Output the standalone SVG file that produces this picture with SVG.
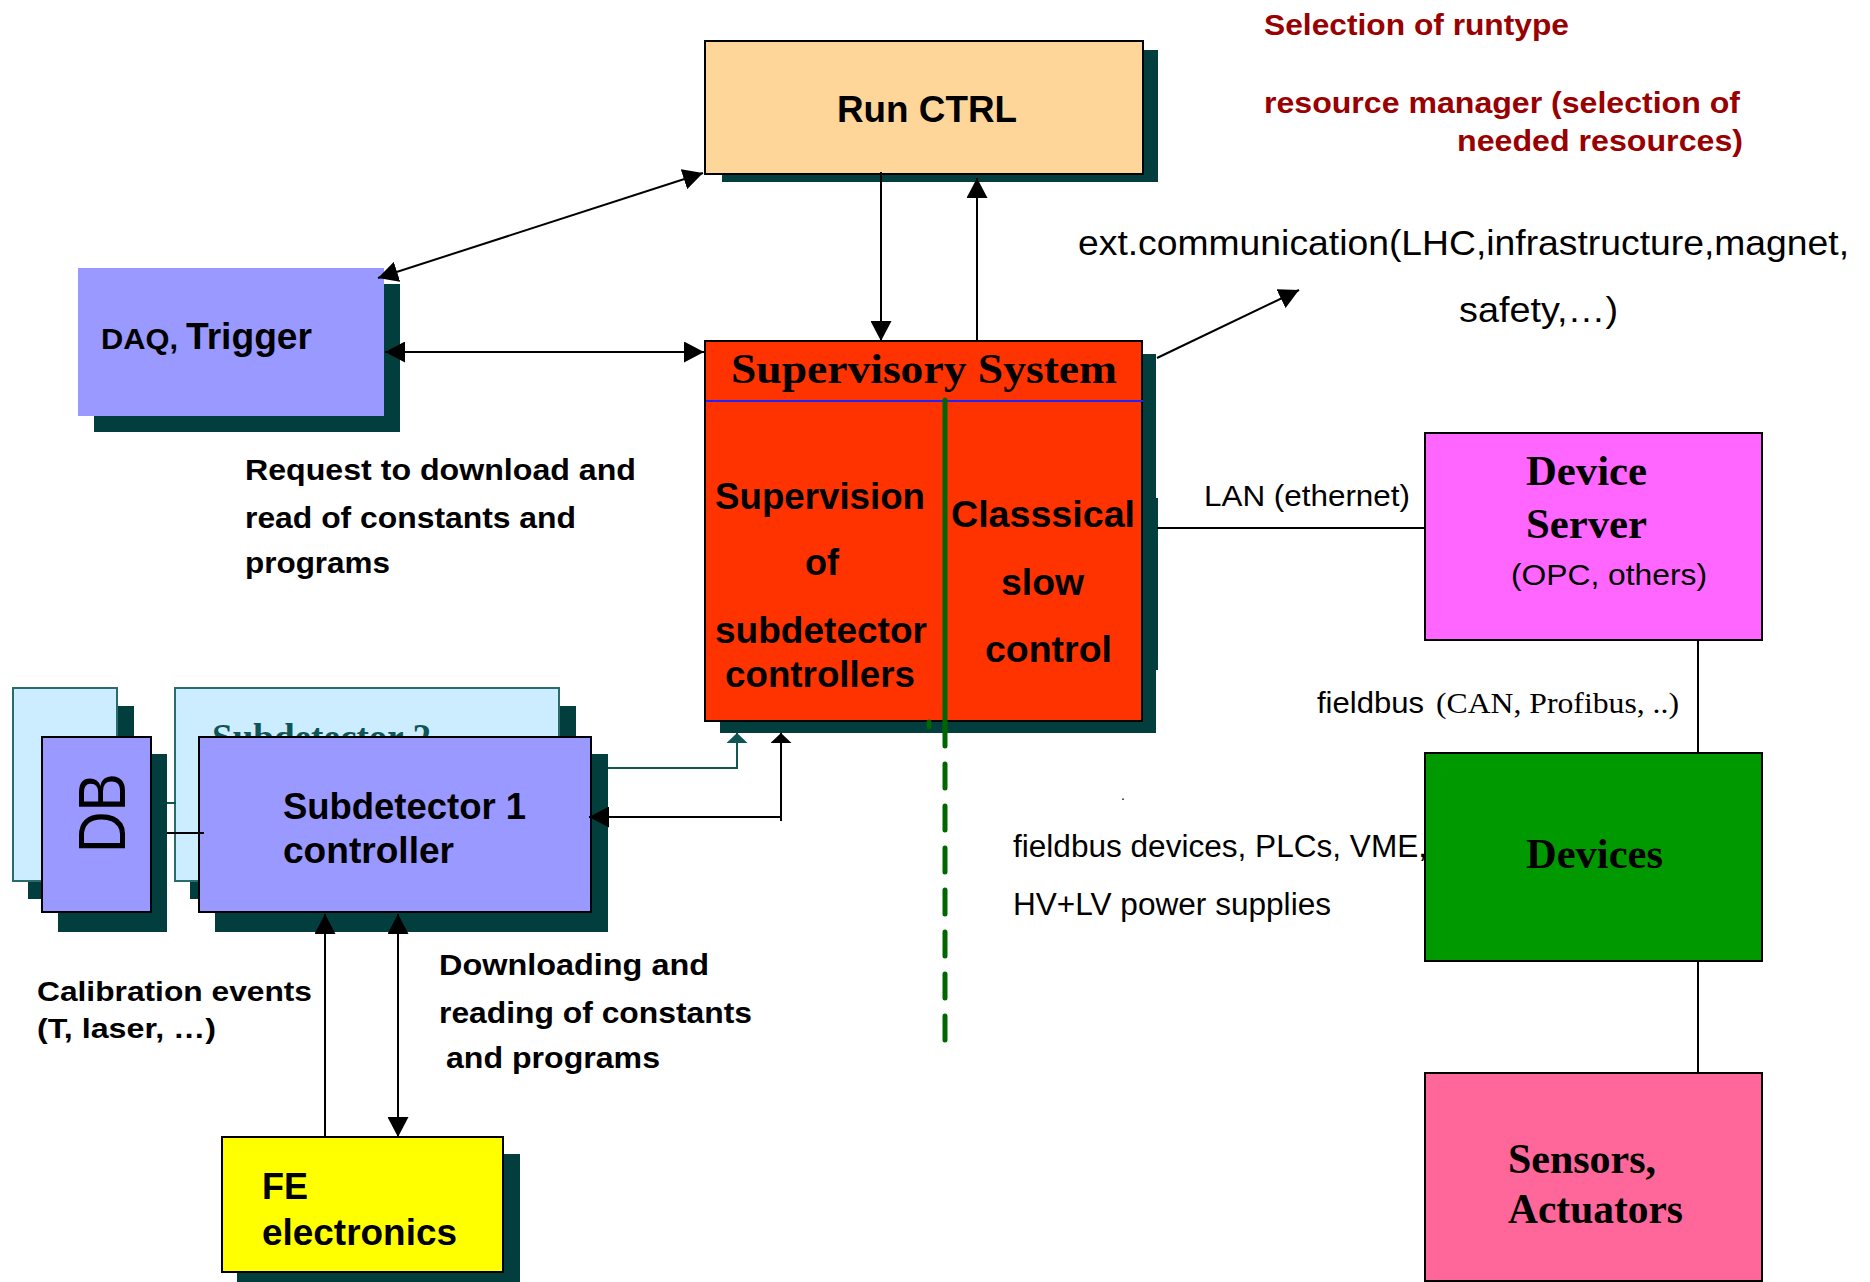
<svg xmlns="http://www.w3.org/2000/svg" width="1870" height="1282" viewBox="0 0 1870 1282">
<style>
.sh{fill:#023E3E}
.bx{stroke:#000;stroke-width:2}
.lb{fill:#CCECFF;stroke:#2A6B6B;stroke-width:2}
.a{font-family:"Liberation Sans",Arial,sans-serif}
.b{font-family:"Liberation Sans",Arial,sans-serif;font-weight:bold}
.t{font-family:"Liberation Serif","Times New Roman",serif}
.tb{font-family:"Liberation Serif","Times New Roman",serif;font-weight:bold}
.red{fill:#990000}
.ln{stroke:#000;stroke-width:2;fill:none}
.tl{stroke:#0E5555;stroke-width:2;fill:none}
</style>
<defs>
<marker id="ah" markerUnits="userSpaceOnUse" markerWidth="20" markerHeight="21" viewBox="0 0 20 21" refX="20" refY="10.5" orient="auto-start-reverse"><path d="M0,0 L20,10.5 L0,21 z" fill="#000"/></marker>
<marker id="ahs" markerUnits="userSpaceOnUse" markerWidth="10" markerHeight="21" viewBox="0 0 10 21" refX="10" refY="10.5" orient="auto-start-reverse"><path d="M0,0 L10,10.5 L0,21 z" fill="#000"/></marker>
<marker id="aht" markerUnits="userSpaceOnUse" markerWidth="10" markerHeight="21" viewBox="0 0 10 21" refX="10" refY="10.5" orient="auto-start-reverse"><path d="M0,0 L10,10.5 L0,21 z" fill="#0E5555"/></marker>
</defs>
<rect width="1870" height="1282" fill="#fff"/>

<g id="labels">
<text class="b red" x="1264" y="35" font-size="30" textLength="305" lengthAdjust="spacingAndGlyphs">Selection of runtype</text>
<text class="b red" x="1264" y="113" font-size="30" textLength="476" lengthAdjust="spacingAndGlyphs">resource manager (selection of</text>
<text class="b red" x="1457" y="151" font-size="30" textLength="286" lengthAdjust="spacingAndGlyphs">needed resources)</text>
<text class="a" x="1078" y="255" font-size="35" textLength="771" lengthAdjust="spacingAndGlyphs">ext.communication(LHC,infrastructure,magnet,</text>
<text class="a" x="1459" y="322" font-size="35" textLength="159" lengthAdjust="spacingAndGlyphs">safety,…)</text>
<text class="b" x="245" y="480" font-size="30" textLength="391" lengthAdjust="spacingAndGlyphs">Request to download and</text>
<text class="b" x="245" y="528" font-size="30" textLength="331" lengthAdjust="spacingAndGlyphs">read of constants and</text>
<text class="b" x="245" y="573" font-size="30" textLength="145" lengthAdjust="spacingAndGlyphs">programs</text>
<text class="a" x="1204" y="506" font-size="29" textLength="206" lengthAdjust="spacingAndGlyphs">LAN (ethernet)</text>
<text x="1317" y="713" font-size="29"><tspan class="a" x="1317" textLength="107" lengthAdjust="spacingAndGlyphs">fieldbus</tspan><tspan class="t" x="1436" textLength="243" lengthAdjust="spacingAndGlyphs">(CAN, Profibus, ..)</tspan></text>
<text class="a" x="1121" y="800" font-size="14">.</text>
<text class="a" x="1013" y="857" font-size="31" textLength="414" lengthAdjust="spacingAndGlyphs">fieldbus devices, PLCs, VME,</text>
<text class="a" x="1013" y="915" font-size="31" textLength="318" lengthAdjust="spacingAndGlyphs">HV+LV power supplies</text>
<text class="b" x="37" y="1001" font-size="28" textLength="275" lengthAdjust="spacingAndGlyphs">Calibration events</text>
<text class="b" x="37" y="1038" font-size="28" textLength="179" lengthAdjust="spacingAndGlyphs">(T, laser, …)</text>
<text class="b" x="439" y="975" font-size="30" textLength="270" lengthAdjust="spacingAndGlyphs">Downloading and</text>
<text class="b" x="439" y="1023" font-size="30" textLength="313" lengthAdjust="spacingAndGlyphs">reading of constants</text>
<text class="b" x="446" y="1068" font-size="30" textLength="214" lengthAdjust="spacingAndGlyphs">and programs</text>
</g>

<g id="runctrl">
<rect class="sh" x="722" y="50" width="436" height="132"/>
<rect class="bx" x="705" y="41" width="438" height="133" fill="#FFD699"/>
<text class="b" x="837" y="122" font-size="37" textLength="180" lengthAdjust="spacingAndGlyphs">Run CTRL</text>
</g>

<g id="daq">
<rect class="sh" x="94" y="284" width="306" height="148"/>
<rect x="78" y="268" width="306" height="148" fill="#9999FF"/>
<text class="b" x="101" y="349" font-size="29" textLength="77" lengthAdjust="spacingAndGlyphs">DAQ,</text>
<text class="b" x="186" y="349" font-size="36" textLength="126" lengthAdjust="spacingAndGlyphs">Trigger</text>
</g>

<g id="supervisory">
<rect class="sh" x="720" y="354" width="436" height="379"/>
<rect class="sh" x="1150" y="498" width="8" height="172"/>
<rect class="bx" x="705" y="341" width="437" height="380" fill="#FF3300"/>
<line x1="706" y1="401" x2="1143" y2="401" stroke="#2222FF" stroke-width="2"/>
<text class="tb" x="731" y="383" font-size="42" textLength="386" lengthAdjust="spacingAndGlyphs">Supervisory System</text>
<text class="b" x="715" y="509" font-size="37" textLength="210" lengthAdjust="spacingAndGlyphs">Supervision</text>
<text class="b" x="805" y="575" font-size="37" textLength="34" lengthAdjust="spacingAndGlyphs">of</text>
<text class="b" x="715" y="643" font-size="37" textLength="212" lengthAdjust="spacingAndGlyphs">subdetector</text>
<text class="b" x="725" y="687" font-size="37" textLength="190" lengthAdjust="spacingAndGlyphs">controllers</text>
<text class="b" x="951" y="527" font-size="37" textLength="184" lengthAdjust="spacingAndGlyphs">Classsical</text>
<text class="b" x="1001" y="595" font-size="37" textLength="83" lengthAdjust="spacingAndGlyphs">slow</text>
<text class="b" x="985" y="662" font-size="37" textLength="127" lengthAdjust="spacingAndGlyphs">control</text>
<line x1="945" y1="400" x2="945" y2="722" stroke="#006600" stroke-width="5" stroke-linecap="round"/>
<line x1="929" y1="722" x2="929" y2="727" stroke="#006600" stroke-width="5" stroke-linecap="round"/>
<line x1="945" y1="722" x2="945" y2="1040" stroke="#006600" stroke-width="5" stroke-linecap="round" stroke-dasharray="24 18"/>
</g>

<g id="subdetector-back">
<rect class="sh" x="28" y="706" width="106" height="193"/>
<rect class="lb" x="13" y="688" width="104" height="193"/>
<rect class="sh" x="190" y="706" width="386" height="193"/>
<rect class="lb" x="175" y="688" width="384" height="193"/>
<text class="tb" x="212" y="750" font-size="37" fill="#0E5555" textLength="219" lengthAdjust="spacingAndGlyphs">Subdetector 2</text>
</g>

<g id="db">
<rect class="sh" x="58" y="754" width="109" height="178"/>
<rect class="bx" x="42" y="737" width="109" height="175" fill="#9999FF"/>
<text class="a" transform="translate(125,853) rotate(-90)" x="0" y="0" font-size="66" textLength="80" lengthAdjust="spacingAndGlyphs">DB</text>
</g>

<g id="subdetector1">
<rect class="sh" x="215" y="754" width="393" height="178"/>
<rect class="bx" x="199" y="737" width="392" height="175" fill="#9999FF"/>
<text class="b" x="283" y="819" font-size="36" textLength="243" lengthAdjust="spacingAndGlyphs">Subdetector 1</text>
<text class="b" x="283" y="863" font-size="36" textLength="171" lengthAdjust="spacingAndGlyphs">controller</text>
</g>

<g id="fe">
<rect class="sh" x="237" y="1154" width="283" height="128"/>
<rect class="bx" x="222" y="1137" width="281" height="135" fill="#FFFF00"/>
<text class="b" x="262" y="1199" font-size="36">FE</text>
<text class="b" x="262" y="1245" font-size="36" textLength="195" lengthAdjust="spacingAndGlyphs">electronics</text>
</g>

<g id="deviceserver">
<rect class="bx" x="1425" y="433" width="337" height="207" fill="#FF66FF"/>
<text class="tb" x="1526" y="485" font-size="42" textLength="121" lengthAdjust="spacingAndGlyphs">Device</text>
<text class="tb" x="1526" y="538" font-size="42" textLength="121" lengthAdjust="spacingAndGlyphs">Server</text>
<text class="a" x="1511" y="585" font-size="29" textLength="196" lengthAdjust="spacingAndGlyphs">(OPC, others)</text>
</g>

<g id="devices">
<rect class="bx" x="1425" y="753" width="337" height="208" fill="#009900"/>
<text class="tb" x="1526" y="868" font-size="42" textLength="137" lengthAdjust="spacingAndGlyphs">Devices</text>
</g>

<g id="sensors">
<rect class="bx" x="1425" y="1073" width="337" height="208" fill="#FF6699"/>
<text class="tb" x="1508" y="1173" font-size="42" textLength="148" lengthAdjust="spacingAndGlyphs">Sensors,</text>
<text class="tb" x="1508" y="1223" font-size="42" textLength="175" lengthAdjust="spacingAndGlyphs">Actuators</text>
</g>

<g id="connectors">
<line class="ln" x1="881" y1="172" x2="881" y2="341" marker-end="url(#ah)"/>
<line class="ln" x1="977" y1="341" x2="977" y2="178" marker-end="url(#ah)"/>
<line class="ln" x1="378" y1="278" x2="703" y2="173" marker-start="url(#ah)" marker-end="url(#ah)"/>
<line class="ln" x1="385" y1="352" x2="704" y2="352" marker-start="url(#ah)" marker-end="url(#ah)"/>
<line class="ln" x1="1157" y1="358" x2="1299" y2="290" marker-end="url(#ah)"/>
<line class="ln" x1="1157" y1="528" x2="1425" y2="528"/>
<line class="ln" x1="1698" y1="640" x2="1698" y2="753"/>
<line class="ln" x1="1698" y1="961" x2="1698" y2="1073"/>
<path class="tl" d="M608,768 H737 V733" marker-end="url(#aht)"/>
<line class="ln" x1="781" y1="821" x2="781" y2="733" marker-end="url(#ahs)"/>
<line class="ln" x1="781" y1="817" x2="589" y2="817" marker-end="url(#ah)"/>
<line class="ln" x1="325" y1="1137" x2="325" y2="914" marker-end="url(#ah)"/>
<line class="ln" x1="398" y1="914" x2="398" y2="1137" marker-start="url(#ah)" marker-end="url(#ah)"/>
<line class="ln" x1="167" y1="833" x2="204" y2="833"/>
<line class="tl" x1="167" y1="803" x2="176" y2="803"/>
</g>
</svg>
